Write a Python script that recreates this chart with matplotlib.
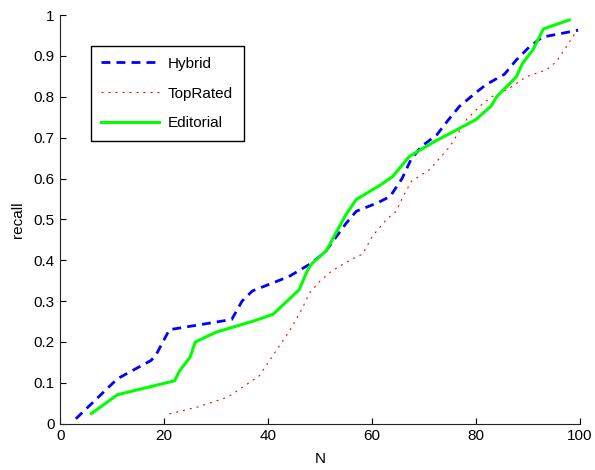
import numpy as np
import matplotlib
matplotlib.use("Agg")
import matplotlib.pyplot as plt

plt.rcParams['font.family'] = ['Liberation Sans', 'DejaVu Sans']
plt.rcParams['font.size'] = 11

# recall vs N for each recommender
hybrid_n = [3, 11, 17.5, 18.5, 21, 33, 35, 37, 41, 44, 48, 51, 53, 55, 57, 61,
            63.5, 65.8, 67.5, 69.5, 72.5, 74.5, 76.8, 80, 82, 85.5, 87.8, 90.3,
            92.8, 96.5, 99.7]
hybrid_recall = [0.012, 0.11, 0.155, 0.17, 0.23, 0.255, 0.30, 0.325, 0.345, 0.36,
                 0.39, 0.42, 0.455, 0.49, 0.52, 0.54, 0.556, 0.60, 0.646, 0.678,
                 0.707, 0.74, 0.776, 0.81, 0.83, 0.855, 0.89, 0.922, 0.946, 0.955,
                 0.963]

toprated_n = [21, 26.5, 32.2, 34, 38.3, 41.8, 44, 46.5, 48, 50, 52.2, 55.7, 58.2,
              60.1, 62.8, 64.7, 66, 67.6, 71.1, 75, 78.2, 80.7, 83, 86, 89.7, 93.6,
              95.5, 97.4, 99.5]
toprated_recall = [0.024, 0.041, 0.065, 0.08, 0.117, 0.183, 0.224, 0.28, 0.32,
                   0.349, 0.373, 0.40, 0.415, 0.459, 0.50, 0.52, 0.556, 0.593,
                   0.622, 0.678, 0.744, 0.776, 0.80, 0.817, 0.849, 0.866, 0.886,
                   0.922, 0.963]

editorial_n = [6, 11, 22, 23, 25, 26, 30, 37.4, 41, 46, 47.4, 48.3, 51.2, 53.2, 55,
               57, 61.5, 64, 67.2, 72, 80, 83, 84, 87.8, 89, 91, 93, 98]
editorial_recall = [0.025, 0.071, 0.105, 0.13, 0.163, 0.20, 0.224, 0.252, 0.268,
                    0.328, 0.37, 0.39, 0.423, 0.47, 0.512, 0.549, 0.583, 0.605,
                    0.654, 0.69, 0.744, 0.778, 0.80, 0.849, 0.882, 0.915, 0.966,
                    0.988]

fig = plt.figure(figsize=(5.95, 4.7), dpi=100)
ax = fig.add_axes([0.1013, 0.0985, 0.873, 0.8695])

ax.plot(hybrid_n, hybrid_recall, color='#0000ff', lw=2, dashes=(3.2, 2.2), label='Hybrid')
ax.plot(toprated_n, toprated_recall, color='#ff0000', lw=0.8, dashes=(1.8, 4.5), label='TopRated')
ax.plot(editorial_n, editorial_recall, color='#00ff00', lw=2.2, label='Editorial')

ax.set_xlim(0, 100)
ax.set_ylim(0, 1)
ax.set_xticks(np.arange(0, 101, 20))
ax.set_yticks(np.arange(0, 1.01, 0.1))
ax.set_yticklabels(['0'] + ['%.1f' % v for v in np.arange(0.1, 0.95, 0.1)] + ['1'])
ax.tick_params(direction='in', length=4, width=0.8, labelsize=11, pad=4)
ax.spines['top'].set_visible(False)
ax.spines['right'].set_visible(False)
for s in ['left', 'bottom']:
    ax.spines[s].set_linewidth(0.8)
    ax.spines[s].set_color('#222222')

ax.set_xlabel('N', labelpad=6)
ax.set_ylabel('recall', labelpad=6)

leg = ax.legend(loc='upper left', bbox_to_anchor=(0.0585, 0.924), fancybox=False,
                edgecolor='black', framealpha=1, handlelength=3.8, handletextpad=0.55,
                labelspacing=1.03, borderpad=0.7, borderaxespad=0)
leg.get_frame().set_linewidth(1.0)

fig.savefig('out.png', dpi=100)
